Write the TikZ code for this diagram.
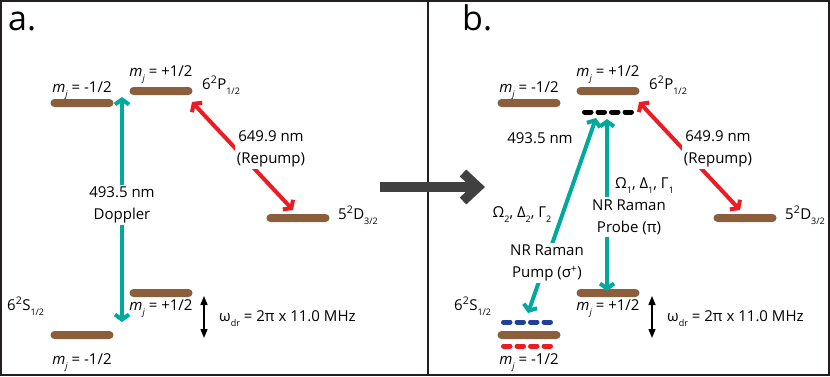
\documentclass[tikz,border=0pt]{standalone}
\usepackage{fontspec}
\setmainfont{Open Sans}
\usetikzlibrary{calc,arrows.meta}
\definecolor{levelbrown}{RGB}{139,94,60}
\definecolor{beamteal}{RGB}{0,169,157}
\definecolor{beamred}{RGB}{237,28,36}
\definecolor{dashblue}{RGB}{33,64,154}
\definecolor{arrowgray}{RGB}{64,64,64}
\definecolor{framegray}{RGB}{35,31,32}
\newcommand{\lsub}[1]{\raisebox{-5pt}{\fontsize{9}{9}\selectfont #1}}
\newcommand{\mj}{\textit{m}\lsub{\textit{j}}}
\tikzset{
  levelbar/.style={rectangle,fill=levelbrown,minimum width=63pt,minimum height=8pt,
    rounded corners=4pt,inner sep=0pt},
  sublevel/.style={line width=5pt,line cap=round,dash pattern=on 6.5pt off 7pt},
  txt/.style={font=\fontsize{15}{22}\selectfont,inner sep=0pt},
  lbl/.style={txt,fill=white,align=center,inner sep=2pt},
  beam/.style={line width=4pt,{Straight Barb[length=5pt,width=14pt]}-{Straight Barb[length=5pt,width=14pt]}},
  split/.style={line width=1.4pt,{Triangle[length=9pt,width=7pt]}-{Triangle[length=9pt,width=7pt]}},
  bigarrow/.style={arrowgray,line width=9.5pt}
}
\begin{document}
\begin{tikzpicture}[x=1pt,y=-1pt]
  \useasboundingbox (0,0) rectangle (830,376);
  % frame and divider
  \draw[framegray,line width=2pt] (1,1) rectangle (829,375);
  \draw[framegray,line width=2pt] (428,1) -- (428,375);
  % big arrow between the panels
  \coordinate (shaftS) at (380,187);
  \coordinate (shaftE) at (478,187);
  \draw[bigarrow] (shaftS) -- (shaftE);
  \draw[bigarrow,line join=miter] ($(shaftE)+(-15,-14)$) -- (shaftE) -- ($(shaftE)+(-15,14)$);
  % a. Doppler cooling
  \begin{scope}
    \node[txt,font=\fontsize{34}{34}\selectfont,anchor=base west] (aTitle) at (8,30) {a.};
    \node[levelbar] (aPm) at (82,103) {};
    \node[levelbar] (aPp) at (161,91) {};
    \node[levelbar] (aD) at (298,218) {};
    \node[levelbar] (aSp) at (161,293) {};
    \node[levelbar] (aSm) at (82,335) {};
    \node[txt,anchor=base] (aPmL) at (82,92) {\mj\ = -1/2};
    \node[txt,anchor=base] (aPpL) at (161,76) {\mj\ = +1/2};
    \node[txt,anchor=base west] (aPL) at (202,89) {6\textsuperscript{2}P\lsub{1/2}};
    \node[txt,anchor=base west] (aDL) at (338,219) {5\textsuperscript{2}D\lsub{3/2}};
    \node[txt,anchor=base west] (aSL) at (7,310) {6\textsuperscript{2}S\lsub{1/2}};
    \node[txt,anchor=base] (aSpL) at (161,310) {\mj\ = +1/2};
    \node[txt,anchor=base] (aSmL) at (82,364) {\mj\ = -1/2};
    % 493.5 nm cooling beam
    \coordinate (aDopT) at (122,97);
    \coordinate (aDopB) at (122,322);
    \draw[beam,beamteal] (aDopB) -- (aDopT);
    \node[lbl] (aDopL) at (122,205) {493.5 nm\\Doppler};
    % 649.9 nm repump
    \coordinate (aRepT) at (192,102);
    \coordinate (aRepB) at (293,210);
    \draw[beam,beamred] (aRepB) -- (aRepT);
    \node[lbl] (aRepL) at (271,149) {649.9 nm\\(Repump)};
    % Zeeman splitting
    \coordinate (aSplT) at (204,296);
    \coordinate (aSplB) at (204,338);
    \draw[split] (aSplT) -- (aSplB);
    \node[txt,anchor=base west] (aSplL) at (219,321) {ω\lsub{dr} = 2π x 11.0 MHz};
  \end{scope}
  % b. NR Raman
  \begin{scope}[xshift=447pt]
    \node[txt,font=\fontsize{34}{34}\selectfont,anchor=base west] (bTitle) at (15,30) {b.};
    \node[levelbar] (bPm) at (82,103) {};
    \node[levelbar] (bPp) at (161,91) {};
    \node[levelbar] (bD) at (298,218) {};
    \node[levelbar] (bSp) at (161,293) {};
    \node[levelbar] (bSm) at (82,335) {};
    \draw[sublevel,black] (137.5,112) -- (184.5,112);
    \draw[sublevel,dashblue] (56.5,322) -- (105.5,322);
    \draw[sublevel,beamred] (56.5,346) -- (105.5,346);
    \node[txt,anchor=base] (bPmL) at (82,92) {\mj\ = -1/2};
    \node[txt,anchor=base] (bPpL) at (161,76) {\mj\ = +1/2};
    \node[txt,anchor=base west] (bPL) at (202,89) {6\textsuperscript{2}P\lsub{1/2}};
    \node[txt,anchor=base west] (bDL) at (338,219) {5\textsuperscript{2}D\lsub{3/2}};
    \node[txt,anchor=base west] (bSL) at (7,310) {6\textsuperscript{2}S\lsub{1/2}};
    \node[txt,anchor=base] (bSpL) at (161,310) {\mj\ = +1/2};
    \node[txt,anchor=base] (bSmL) at (82,364) {\mj\ = -1/2};
    \node[txt,anchor=base] (bWave) at (93,143) {493.5 nm};
    % probe beam
    \coordinate (bPrT) at (160,119);
    \coordinate (bPrB) at (160,291);
    \draw[beam,beamteal] (bPrB) -- (bPrT);
    \node[lbl] (bPrL) at (182,217) {NR Raman\\Probe (π)};
    \node[txt,anchor=base west] (bPrP) at (168,188) {Ω\lsub{1}, Δ\lsub{1}, Γ\lsub{1}};
    % pump beam
    \coordinate (bPuT) at (149,118);
    \coordinate (bPuB) at (81,313);
    \draw[beam,beamteal] (bPuB) -- (bPuT);
    \node[lbl] (bPuL) at (100,263) {NR Raman\\Pump (σ\textsuperscript{+})};
    \node[txt,anchor=base] (bPuP) at (75,217) {Ω\lsub{2}, Δ\lsub{2}, Γ\lsub{2}};
    % 649.9 nm repump
    \coordinate (bRepT) at (192,102);
    \coordinate (bRepB) at (293,210);
    \draw[beam,beamred] (bRepB) -- (bRepT);
    \node[lbl] (bRepL) at (271,149) {649.9 nm\\(Repump)};
    % Zeeman splitting
    \coordinate (bSplT) at (205,296);
    \coordinate (bSplB) at (205,338);
    \draw[split] (bSplT) -- (bSplB);
    \node[txt,anchor=base west] (bSplL) at (220,321) {ω\lsub{dr} = 2π x 11.0 MHz};
  \end{scope}
\end{tikzpicture}
\end{document}
